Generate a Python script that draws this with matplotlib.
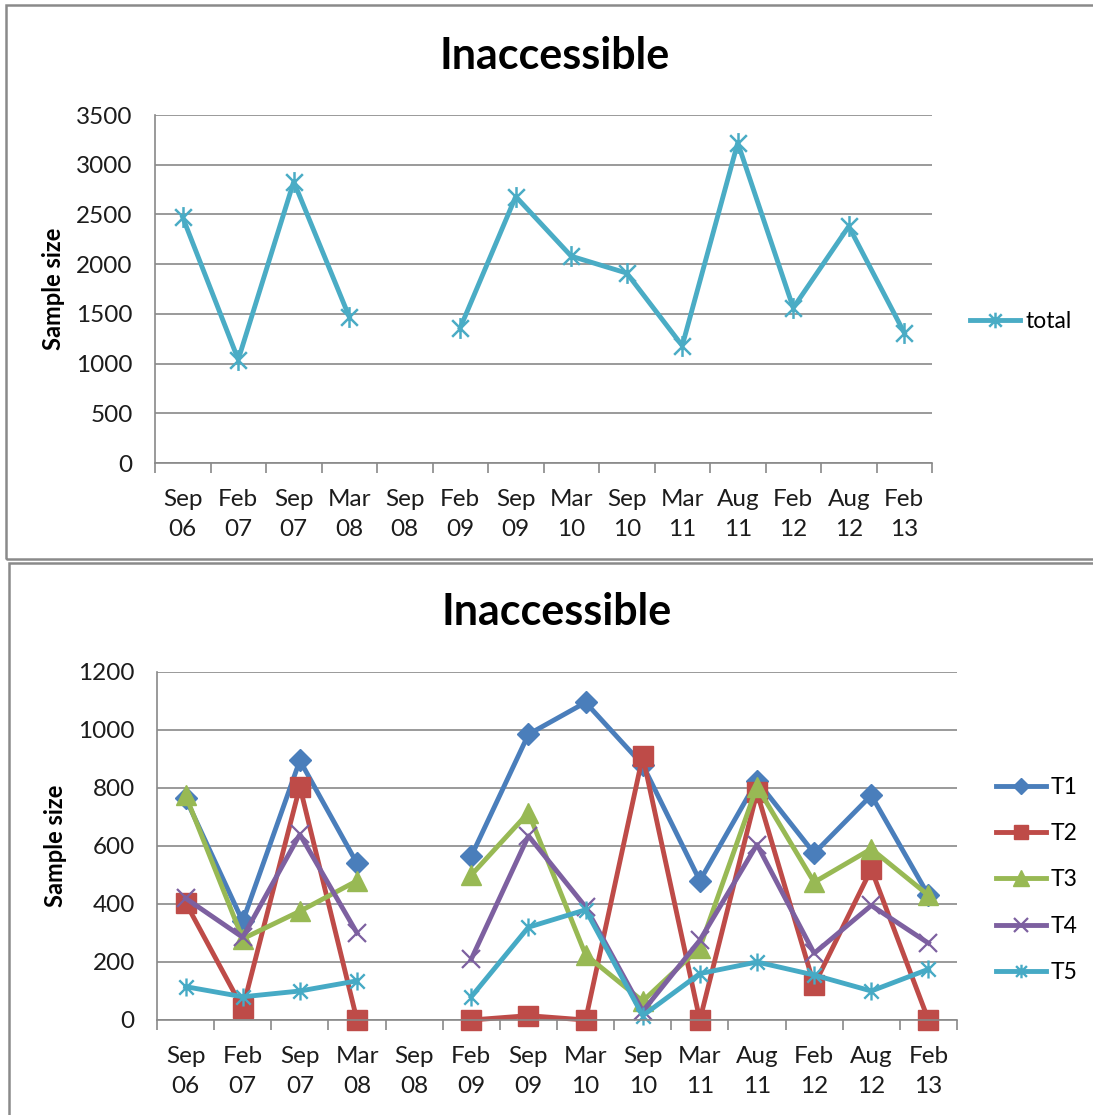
import numpy as np
import matplotlib
matplotlib.use("Agg")
import matplotlib.pyplot as plt
from matplotlib.path import Path
from matplotlib.patches import Rectangle
from matplotlib.ticker import FuncFormatter

# ---- data -------------------------------------------------------------
periods = ["Sep\n06", "Feb\n07", "Sep\n07", "Mar\n08", "Sep\n08", "Feb\n09", "Sep\n09",
           "Mar\n10", "Sep\n10", "Mar\n11", "Aug\n11", "Feb\n12", "Aug\n12", "Feb\n13"]
nan = np.nan
total = [2470, 1040, 2830, 1470, nan, 1360, 2680, 2080, 1910, 1180, 3220, 1560, 2380, 1310]

t1 = [765, 340, 895, 540, nan, 565, 985, 1095, 880, 480, 825, 575, 775, 430]
t2 = [405, 40, 805, 0, nan, 0, 15, 0, 910, 0, 785, 120, 520, 0]
t3 = [775, 280, 375, 480, nan, 500, 715, 225, 65, 250, 805, 475, 590, 430]
t4 = [420, 285, 640, 300, nan, 210, 635, 390, 30, 275, 605, 230, 395, 265]
t5 = [115, 80, 100, 135, nan, 80, 320, 380, 15, 160, 200, 155, 100, 175]

series_names = ["T1", "T2", "T3", "T4", "T5"]
series_vals = [t1, t2, t3, t4, t5]

# ---- styling ----------------------------------------------------------
plt.rcParams["font.family"] = ["Lato", "DejaVu Sans"]
W, H = 1093, 1115
fig = plt.figure(figsize=(W / 100, H / 100), dpi=100)

grey = "#898989"
text_col = "#1c1c1c"
colors = ["#4a7ebb", "#be4b48", "#98b954", "#7d60a0", "#46aac5"]

# asterisk marker: an X with a vertical bar
star = Path([(-1, -1), (1, 1), (-1, 1), (1, -1), (0, -1.25), (0, 1.25)],
            [Path.MOVETO, Path.LINETO, Path.MOVETO, Path.LINETO, Path.MOVETO, Path.LINETO])


def px_rect(x0, y0, x1, y1):
    return [x0 / W, 1 - y1 / H, (x1 - x0) / W, (y1 - y0) / H]


# panel frames
for (x0, y0, x1, y1) in [(6, 5, 1100, 559), (9, 563, 1100, 1125)]:
    fig.patches.append(Rectangle((x0 / W, 1 - y1 / H), (x1 - x0) / W, (y1 - y0) / H,
                                 transform=fig.transFigure, fill=False,
                                 edgecolor="#8a8a8a", linewidth=1.8, zorder=0))


def style_axes(ax, ymax, ystep):
    n = len(periods)
    x = np.arange(n)
    ax.set_xlim(-0.5, n - 0.5)
    ax.set_ylim(0, ymax)
    ax.set_yticks(np.arange(0, ymax + 1, ystep))
    ax.yaxis.set_major_formatter(FuncFormatter(lambda v, p: f"{int(v)}"))
    ax.yaxis.grid(True, color=grey, linewidth=1.2)
    ax.set_axisbelow(True)
    for s in ["top", "right"]:
        ax.spines[s].set_visible(False)
    for s in ["left", "bottom"]:
        ax.spines[s].set_color(grey)
        ax.spines[s].set_linewidth(1.2)
    ax.tick_params(axis="y", length=0, pad=16, labelsize=17.5, labelcolor=text_col)
    # tick marks between categories, labels at category centres
    ax.set_xticks(np.arange(-0.5, n, 1.0))
    ax.set_xticklabels([])
    ax.tick_params(axis="x", which="major", direction="out", length=7, width=1.2, color=grey)
    ax.set_xticks(x, minor=True)
    ax.set_xticklabels(periods, minor=True, fontsize=17.5, color=text_col, linespacing=1.55)
    ax.tick_params(axis="x", which="minor", length=0, pad=18.5)
    ax.set_ylabel("Sample size", fontsize=17, fontweight="bold", color="black", labelpad=8)
    return x


# ---- top panel: total -------------------------------------------------
ax1 = fig.add_axes(px_rect(155, 115, 932, 463))
x = style_axes(ax1, 3500, 500)
ax1.plot(x, total, color="#4aacc5", linewidth=3.5, marker=star, markersize=15,
         markeredgewidth=1.8, markerfacecolor="none", markeredgecolor="#4aacc5",
         label="total")
fig.text(555 / W, 1 - 56 / H, "Inaccessible", ha="center", va="center",
         fontsize=31, fontweight="bold", color="black")
ax1.legend(loc="center left", bbox_to_anchor=(970 / W, 1 - 322 / H),
           bbox_transform=fig.transFigure, frameon=False, fontsize=16.5,
           handlelength=2.2, handletextpad=0.2, borderaxespad=0, borderpad=0,
           markerscale=0.75)

# ---- bottom panel: T1..T5 ---------------------------------------------
ax2 = fig.add_axes(px_rect(157, 672, 957, 1020))
x = style_axes(ax2, 1200, 200)
marker_specs = [
    dict(marker="D", markersize=11, markeredgewidth=1.0),
    dict(marker="s", markersize=14, markeredgewidth=1.0),
    dict(marker="^", markersize=15, markeredgewidth=1.0),
    dict(marker="x", markersize=13, markeredgewidth=1.6),
    dict(marker=star, markersize=13, markeredgewidth=1.7, markerfacecolor="none"),
]
for name, vals, c, spec in zip(series_names, series_vals, colors, marker_specs):
    ax2.plot(x, vals, color=c, linewidth=3.5, markeredgecolor=c,
             label=name, clip_on=False, **spec)
fig.text(557 / W, 1 - 612 / H, "Inaccessible", ha="center", va="center",
         fontsize=31, fontweight="bold", color="black")
ax2.legend(loc="center left", bbox_to_anchor=(996 / W, 1 - 880 / H),
           bbox_transform=fig.transFigure, frameon=False, fontsize=16.5,
           handlelength=2.2, handletextpad=0.2, borderaxespad=0, borderpad=0,
           labelspacing=1.1, markerscale=0.75)

fig.savefig("out.png", dpi=100)
